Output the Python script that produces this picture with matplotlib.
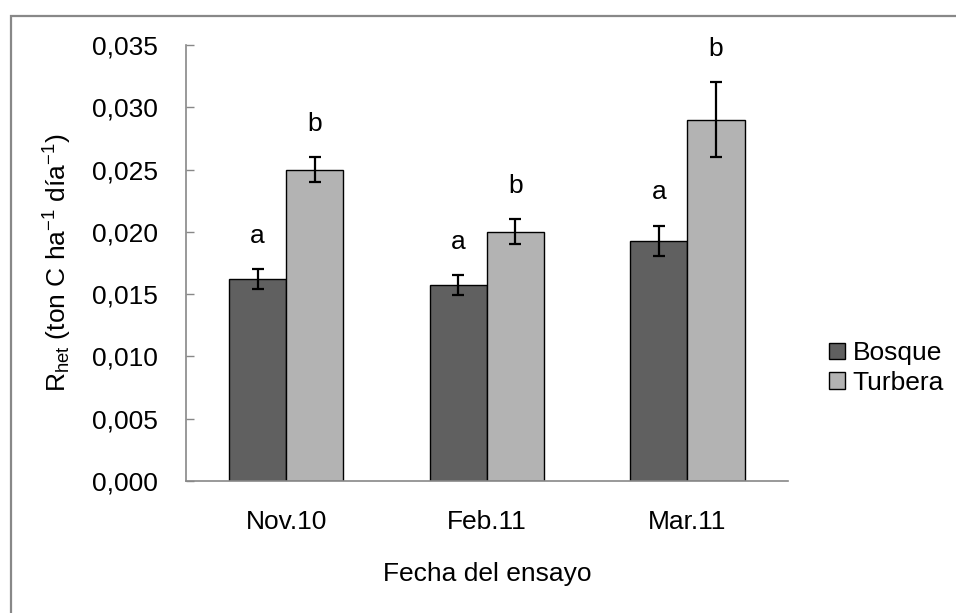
import matplotlib
matplotlib.use("Agg")
import matplotlib.pyplot as plt
import numpy as np
from matplotlib.patches import Rectangle

plt.rcParams['font.family'] = ['Liberation Sans', 'DejaVu Sans']
plt.rcParams['mathtext.fontset'] = 'custom'
plt.rcParams['mathtext.rm'] = 'Liberation Sans'
plt.rcParams['mathtext.it'] = 'Liberation Sans'

categories = ['Nov.10', 'Feb.11', 'Mar.11']
bosque = [0.0162, 0.0157, 0.0193]
bosque_err = [0.0008, 0.0008, 0.0012]
turbera = [0.0250, 0.0200, 0.0290]
turbera_err = [0.0010, 0.0010, 0.0030]
bosque_letters = ['a', 'a', 'a']
turbera_letters = ['b', 'b', 'b']
yticks = [0.000, 0.005, 0.010, 0.015, 0.020, 0.025, 0.030, 0.035]

FS = 19
fig = plt.figure(figsize=(9.56, 6.13), dpi=100)
ax = fig.add_axes([0.1946, 0.2153, 0.824 - 0.1946, 0.9266 - 0.2153])

x = np.arange(len(categories))
w = 0.285
axis_grey = '#888888'

ax.bar(x - w/2, bosque, w, color='#606060', edgecolor='black', linewidth=1.0,
       label='Bosque', zorder=2)
ax.bar(x + w/2, turbera, w, color='#b3b3b3', edgecolor='black', linewidth=1.0,
       label='Turbera', zorder=2)
ax.errorbar(x - w/2, bosque, yerr=bosque_err, fmt='none', ecolor='black',
            elinewidth=1.6, capsize=4, capthick=1.6, zorder=3)
ax.errorbar(x + w/2, turbera, yerr=turbera_err, fmt='none', ecolor='black',
            elinewidth=1.6, capsize=4, capthick=1.6, zorder=3)

for xi, v, e, l in zip(x - w/2, bosque, bosque_err, bosque_letters):
    ax.annotate(l, (xi, v + e), xytext=(0, 19), textcoords='offset points',
                ha='center', va='baseline', fontsize=FS)
for xi, v, e, l in zip(x + w/2, turbera, turbera_err, turbera_letters):
    ax.annotate(l, (xi, v + e), xytext=(0, 19), textcoords='offset points',
                ha='center', va='baseline', fontsize=FS)

ax.set_xlim(-0.5, 2.5)
ax.set_ylim(0, 0.035)
ax.set_yticks(yticks)
ax.set_yticklabels([f'{t:.3f}'.replace('.', ',') for t in yticks], fontsize=FS)
ax.set_xticks(x)
ax.set_xticklabels(categories, fontsize=FS)
ax.tick_params(axis='x', length=0, pad=21)
ax.tick_params(axis='y', direction='in', length=6, width=1, color=axis_grey, pad=20)

for s in ['top', 'right']:
    ax.spines[s].set_visible(False)
for s in ['left', 'bottom']:
    ax.spines[s].set_color(axis_grey)
    ax.spines[s].set_linewidth(1.2)

ax.set_xlabel('Fecha del ensayo', fontsize=FS, labelpad=20)
ax.set_ylabel(r'R$_{\mathrm{het}}$ (ton C ha$^{-1}$ día$^{-1}$)', fontsize=FS, labelpad=13)

leg = fig.legend(loc='center left', bbox_to_anchor=(829/956, 1 - 368/613), frameon=False,
                 fontsize=FS, handlelength=0.6, handleheight=0.6, handletextpad=0.3,
                 labelspacing=0.2, borderaxespad=0, borderpad=0)

fig.patches.append(Rectangle((11/956, -0.05), 1.0, 1 - 16/613 + 0.05,
                             transform=fig.transFigure, fill=False,
                             edgecolor=axis_grey, linewidth=1.6))

fig.savefig('out.png', dpi=100)
